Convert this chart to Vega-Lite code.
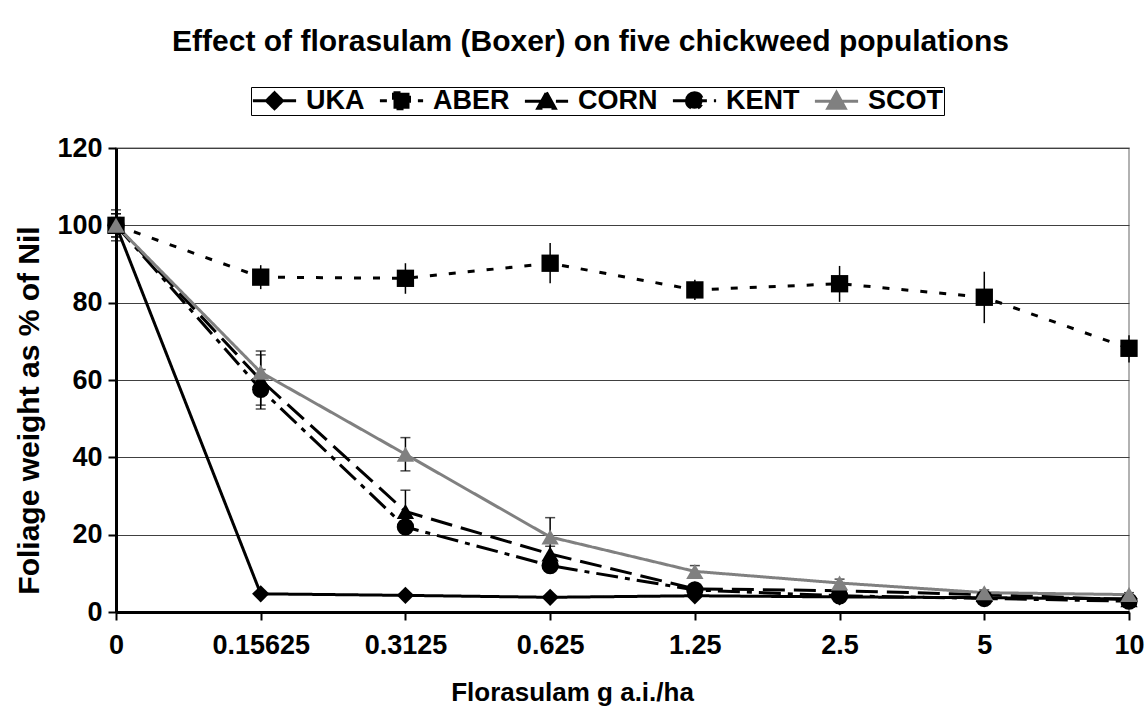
{
  "$schema": "https://vega.github.io/schema/vega-lite/v6.json",
  "width": 1013,
  "height": 464,
  "autosize": {"type": "none"},
  "padding": {"left": 116, "top": 148, "right": 17, "bottom": 96},
  "background": "white",
  "config": {
    "font": "Liberation Sans",
    "view": {"stroke": "#999999", "strokeWidth": 1.5},
    "axis": {"labelFont": "Liberation Sans", "labelFontWeight": "bold", "labelColor": "black", "titleFont": "Liberation Sans", "titleFontWeight": "bold", "titleColor": "black"}
  },
  "title": {
    "text": "Effect of florasulam (Boxer) on five chickweed populations",
    "font": "Liberation Sans",
    "fontSize": 30,
    "fontWeight": "bold",
    "color": "black",
    "frame": "group",
    "anchor": "middle",
    "offset": 30,
    "dx": -32
  },
  "data": {
    "values": [
      {"dose": "0", "series": "UKA", "y": 100, "lo": 96, "hi": 104},
      {"dose": "0.15625", "series": "UKA", "y": 4.7, "lo": 4.2, "hi": 5.2},
      {"dose": "0.3125", "series": "UKA", "y": 4.3, "lo": 3.8, "hi": 4.8},
      {"dose": "0.625", "series": "UKA", "y": 3.8, "lo": 3.4, "hi": 4.2},
      {"dose": "1.25", "series": "UKA", "y": 4.2, "lo": 3.7, "hi": 4.7},
      {"dose": "2.5", "series": "UKA", "y": 3.9, "lo": 3.5, "hi": 4.3},
      {"dose": "5", "series": "UKA", "y": 3.7, "lo": 3.3, "hi": 4.1},
      {"dose": "10", "series": "UKA", "y": 3.4, "lo": 3.0, "hi": 3.8},
      {"dose": "0", "series": "ABER", "y": 100, "lo": 93.5, "hi": 106.5},
      {"dose": "0.15625", "series": "ABER", "y": 86.6, "lo": 83.5, "hi": 89.7},
      {"dose": "0.3125", "series": "ABER", "y": 86.3, "lo": 82.3, "hi": 90.2},
      {"dose": "0.625", "series": "ABER", "y": 90.2, "lo": 85.0, "hi": 95.4},
      {"dose": "1.25", "series": "ABER", "y": 83.3, "lo": 80.7, "hi": 85.9},
      {"dose": "2.5", "series": "ABER", "y": 84.9, "lo": 80.2, "hi": 89.5},
      {"dose": "5", "series": "ABER", "y": 81.4, "lo": 74.7, "hi": 88.0},
      {"dose": "10", "series": "ABER", "y": 68.2, "lo": 64.5, "hi": 71.6},
      {"dose": "0", "series": "CORN", "y": 100, "lo": 97, "hi": 103},
      {"dose": "0.15625", "series": "CORN", "y": 60, "lo": 53.5, "hi": 66.5},
      {"dose": "0.3125", "series": "CORN", "y": 26, "lo": 20.5, "hi": 31.5},
      {"dose": "0.625", "series": "CORN", "y": 15, "lo": 13, "hi": 17},
      {"dose": "1.25", "series": "CORN", "y": 6, "lo": 5, "hi": 7},
      {"dose": "2.5", "series": "CORN", "y": 5.5, "lo": 5, "hi": 6},
      {"dose": "5", "series": "CORN", "y": 4.5, "lo": 4, "hi": 5},
      {"dose": "10", "series": "CORN", "y": 3.2, "lo": 2.7, "hi": 3.7},
      {"dose": "0", "series": "KENT", "y": 100, "lo": 97, "hi": 103},
      {"dose": "0.15625", "series": "KENT", "y": 57.6, "lo": 52.5, "hi": 62.7},
      {"dose": "0.3125", "series": "KENT", "y": 22, "lo": 20.5, "hi": 23.5},
      {"dose": "0.625", "series": "KENT", "y": 12, "lo": 10.5, "hi": 13.5},
      {"dose": "1.25", "series": "KENT", "y": 5.7, "lo": 4.9, "hi": 6.5},
      {"dose": "2.5", "series": "KENT", "y": 4.2, "lo": 3.7, "hi": 4.7},
      {"dose": "5", "series": "KENT", "y": 3.5, "lo": 3.0, "hi": 4.0},
      {"dose": "10", "series": "KENT", "y": 2.8, "lo": 2.3, "hi": 3.3},
      {"dose": "0", "series": "SCOT", "y": 100, "lo": 98, "hi": 102},
      {"dose": "0.15625", "series": "SCOT", "y": 62, "lo": 56.5, "hi": 67.5},
      {"dose": "0.3125", "series": "SCOT", "y": 40.8, "lo": 36.5, "hi": 45.1},
      {"dose": "0.625", "series": "SCOT", "y": 19.4, "lo": 14.4, "hi": 24.4},
      {"dose": "1.25", "series": "SCOT", "y": 10.5, "lo": 9, "hi": 12},
      {"dose": "2.5", "series": "SCOT", "y": 7.5, "lo": 6.5, "hi": 8.5},
      {"dose": "5", "series": "SCOT", "y": 5, "lo": 4.3, "hi": 5.7},
      {"dose": "10", "series": "SCOT", "y": 4.5, "lo": 4, "hi": 5}
    ]
  },
  "encoding": {
    "x": {
      "field": "dose",
      "type": "ordinal",
      "scale": {"type": "point", "padding": 0, "domain": ["0", "0.15625", "0.3125", "0.625", "1.25", "2.5", "5", "10"]},
      "axis": {
        "title": "Florasulam g a.i./ha",
        "labelAngle": 0,
        "labelFontSize": 27,
        "titleFontSize": 26,
        "labelPadding": 12,
        "titlePadding": 21,
        "titleX": 456,
        "domainColor": "black",
        "domainWidth": 3,
        "tickColor": "black",
        "tickWidth": 2,
        "tickSize": 8,
        "grid": false
      }
    },
    "color": {
      "field": "series",
      "type": "nominal",
      "scale": {"domain": ["UKA", "ABER", "CORN", "KENT", "SCOT"], "range": ["black", "black", "black", "black", "#808080"]},
      "legend": {
        "title": null,
        "orient": "none",
        "legendX": 135,
        "legendY": -61,
        "direction": "horizontal",
        "labelFont": "Liberation Sans",
        "labelFontWeight": "bold",
        "labelFontSize": 27,
        "labelColor": "black",
        "labelOffset": 18,
        "symbolOffset": 10,
        "columnPadding": 8,
        "padding": 0,
        "strokeColor": "black",
        "fillColor": "white",
        "encode": {
          "symbols": {
            "update": {
              "shape": {"signal": "datum.value === 'UKA' ? 'M-1.8,0H1.8M0,-0.667L0.667,0L0,0.667L-0.667,0Z' : datum.value === 'ABER' ? 'M-1.8,0H1.8M-0.667,-0.667H0.667V0.667H-0.667Z' : datum.value === 'KENT' ? 'M-1.8,0H1.8M-0.667,0A0.667,0.667,0,1,1,0.667,0A0.667,0.667,0,1,1,-0.667,0Z' : 'M-1.8,0H1.8M0,-0.73L0.73,0.6H-0.73Z'"},
              "size": {"value": 576},
              "fill": {"signal": "datum.value === 'SCOT' ? '#808080' : 'black'"},
              "stroke": {"signal": "datum.value === 'SCOT' ? '#808080' : 'black'"},
              "strokeDash": {"signal": "datum.value === 'ABER' ? [7,12] : datum.value === 'CORN' ? [22,9] : datum.value === 'KENT' ? [22,7,5,7] : [1,0]"},
              "strokeWidth": {"value": 3},
              "opacity": {"value": 1},
              "fillOpacity": {"value": 1},
              "strokeOpacity": {"value": 1}
            }
          }
        }
      }
    }
  },
  "layer": [
    {
      "mark": {"type": "rule", "strokeWidth": 1.5},
      "encoding": {
        "y": {"field": "lo", "type": "quantitative"},
        "y2": {"field": "hi"},
        "color": {"value": "black"}
      }
    },
    {
      "transform": [{"filter": "datum.series !== 'ABER'"}],
      "mark": {"type": "tick", "size": 10, "thickness": 1.5, "orient": "horizontal"},
      "encoding": {"y": {"field": "lo", "type": "quantitative"}, "color": {"value": "black"}}
    },
    {
      "transform": [{"filter": "datum.series !== 'ABER'"}],
      "mark": {"type": "tick", "size": 10, "thickness": 1.5, "orient": "horizontal"},
      "encoding": {"y": {"field": "hi", "type": "quantitative"}, "color": {"value": "black"}}
    },
    {
      "mark": {"type": "line", "strokeWidth": 3},
      "encoding": {
        "y": {
          "field": "y",
          "type": "quantitative",
          "scale": {"domain": [0, 120]},
          "axis": {
            "title": "Foliage weight as % of Nil",
            "values": [0, 20, 40, 60, 80, 100, 120],
            "labelFontSize": 27,
            "titleFontSize": 30,
            "labelPadding": 6,
            "titlePadding": 12,
            "titleY": 262,
            "domainColor": "black",
            "domainWidth": 3,
            "tickColor": "black",
            "tickWidth": 2,
            "tickSize": 8,
            "grid": true,
            "gridColor": "#404040",
            "gridWidth": 1
          }
        },
        "strokeDash": {
          "field": "series",
          "type": "nominal",
          "scale": {"range": [[7, 12], [22, 9], [22, 7, 5, 7], [1, 0], [1, 0]]},
          "legend": null
        }
      }
    },
    {
      "mark": {"type": "point", "filled": true, "opacity": 1},
      "encoding": {
        "y": {"field": "y", "type": "quantitative"},
        "shape": {
          "field": "series",
          "type": "nominal",
          "scale": {"range": ["square", "triangle-up", "circle", "triangle-up", "diamond"]},
          "legend": null
        },
        "size": {
          "field": "series",
          "type": "nominal",
          "scale": {"range": [300, 300, 290, 300, 240]},
          "legend": null
        }
      }
    }
  ]
}
